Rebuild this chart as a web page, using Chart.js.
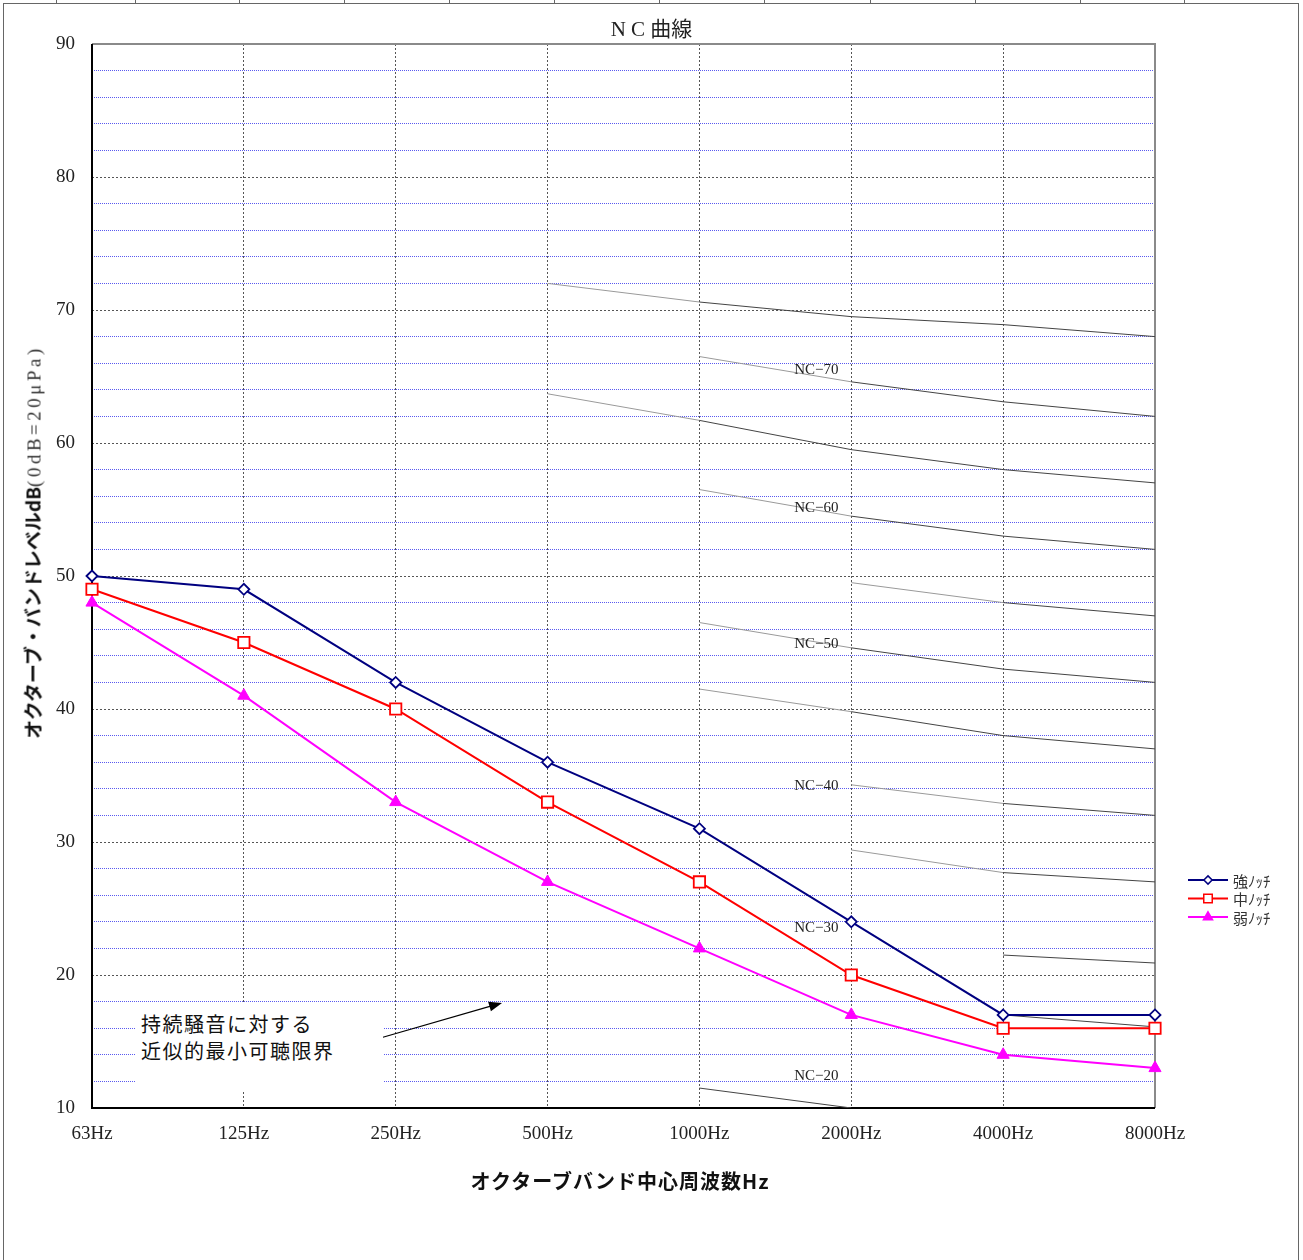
<!DOCTYPE html>
<html lang="ja">
<head>
<meta charset="utf-8">
<title>NC曲線</title>
<script src="https://cdn.jsdelivr.net/npm/chart.js@4.4.1/dist/chart.umd.min.js"></script>
<style>
html, body { margin: 0; padding: 0; background: #fff; }
#wrap { position: relative; width: 1303px; height: 1260px; overflow: hidden; }
#frame { position: absolute; left: 3px; top: 3px; width: 1294px; height: 1260px; border: 1px solid #666; border-bottom: none; }
.cell-tick { position: absolute; top: 0; width: 1px; height: 3px; background: #666; }
canvas { position: absolute; left: 0; top: 0; }
#title { position: absolute; top: 12px; left: 0; width: 1303px; text-align: center; font: 21px "Liberation Serif", "Noto Sans CJK JP", serif; color: #222; }
#ytitle { position: absolute; left: 32px; top: 542px; transform: translate(-50%, -50%) rotate(-90deg); white-space: nowrap; }
#ytitle .jp { font: bold 19px "Noto Sans CJK JP", sans-serif; color: #111; }
#ytitle .unit { font: 19px "Liberation Serif", serif; color: #333; letter-spacing: 3.5px; }
#xtitle { position: absolute; left: 620px; top: 1180px; transform: translate(-50%, -50%); font: bold 20px "Noto Sans CJK JP", sans-serif; letter-spacing: 1px; white-space: nowrap; color: #111; }
#note { position: absolute; left: 135px; top: 1002px; width: 248px; height: 90px; background: #fff; box-sizing: border-box; padding: 8px 0 0 6px; font: 20px "Noto Sans CJK JP", sans-serif; line-height: 27px; letter-spacing: 1.5px; color: #111; }
</style>
</head>
<body>
<div id="wrap">
  <div id="frame"></div>
  <canvas id="ncChart" width="1303" height="1260"></canvas>
  <div id="title">N C 曲線</div>
  <div id="ytitle"><span class="jp">オクターブ・バンドレベルdB</span><span class="unit">(0dB=20μPa)</span></div>
  <div id="xtitle">オクターブバンド中心周波数Hz</div>
  <div id="note">持続騒音に対する<br>近似的最小可聴限界</div>
</div>
<script>
const categories = ["63Hz", "125Hz", "250Hz", "500Hz", "1000Hz", "2000Hz", "4000Hz", "8000Hz"]

const strongNotch = [50, 49, 42, 36, 31, 24, 17, 17]
const midNotch = [49, 45, 40, 33, 27, 20, 16, 16]
const weakNotch = [48, 41, 33, 27, 22, 17, 14, 13]

// NC reference curves, only the parts drawn on the sheet
const nc70 = [null, null, null, 72, 70.6, 69.5, 68.9, 68]
const nc65 = [null, null, null, null, 66.5, 64.6, 63.1, 62]
const nc60 = [null, null, null, 63.7, 61.7, 59.5, 58, 57]
const nc55 = [null, null, null, null, 56.5, 54.5, 53, 52]
const nc50 = [null, null, null, null, null, 49.5, 48, 47]
const nc45 = [null, null, null, null, 46.5, 44.6, 43, 42]
const nc40 = [null, null, null, null, 41.5, 39.8, 38, 37]
const nc35 = [null, null, null, null, null, 34.3, 32.9, 32]
const nc30 = [null, null, null, null, null, 29.4, 27.7, 27]
const nc25 = [null, null, null, null, null, null, 21.5, 20.9]
const nc20 = [null, null, null, null, null, null, 17, 16.1]
const nc15 = [null, null, null, null, 11.5, 10, null, null]

const ncLabels = ["NC\u221270", "NC\u221260", "NC\u221250", "NC\u221240", "NC\u221230", "NC\u221220"]
const ncLabelLevels = [65.5, 55.1, 44.9, 34.2, 23.5, 12.4]
const ncLabelBand = 4.77

const arrowFrom = [1.91, 15.3]
const arrowTo = [2.7, 17.9]

const cellTicks = [56, 135, 239, 344, 449, 554, 659, 764, 870, 975, 1080, 1184]
cellTicks.forEach(x => {
  const d = document.createElement("div")
  d.className = "cell-tick"
  d.style.left = x + "px"
  document.getElementById("wrap").appendChild(d)
})

function ncSet(data) {
  const first = data.findIndex(v => v !== null)
  const count = data.filter(v => v !== null).length
  return {
    label: "",
    data: data,
    borderColor: "#444",
    borderWidth: 1,
    pointRadius: 0,
    spanGaps: false,
    segment: {
      borderColor: ctx => (count > 2 && ctx.p0DataIndex === first) ? "#9a9a9a" : "#444"
    }
  }
}

function drawMarker(ctx, style, x, y, r, stroke, fill, lw) {
  ctx.beginPath()
  if (style === "rectRot") {
    ctx.moveTo(x, y - r); ctx.lineTo(x + r, y); ctx.lineTo(x, y + r); ctx.lineTo(x - r, y)
  } else if (style === "rect") {
    const h = r * Math.SQRT1_2
    ctx.rect(x - h, y - h, 2 * h, 2 * h)
  } else {
    const a = r * Math.sqrt(3) / 2
    ctx.moveTo(x, y - r); ctx.lineTo(x + a, y + r / 2); ctx.lineTo(x - a, y + r / 2)
  }
  ctx.closePath()
  ctx.fillStyle = fill
  ctx.fill()
  ctx.lineWidth = lw
  ctx.strokeStyle = stroke
  ctx.stroke()
}

const framePlugin = {
  id: "frame",
  beforeDatasetsDraw(chart) {
    const { ctx, chartArea: a } = chart
    ctx.save()
    ctx.lineWidth = 2
    ctx.strokeStyle = "#8a8a8a"
    ctx.beginPath()
    ctx.moveTo(a.left, a.top); ctx.lineTo(a.right, a.top); ctx.lineTo(a.right, a.bottom)
    ctx.stroke()
    ctx.strokeStyle = "#000"
    ctx.beginPath()
    ctx.moveTo(a.left, a.top); ctx.lineTo(a.left, a.bottom); ctx.lineTo(a.right, a.bottom)
    ctx.stroke()
    ctx.restore()
  }
}

const notesPlugin = {
  id: "notes",
  afterDatasetsDraw(chart) {
    const { ctx, scales: { x, y } } = chart
    ctx.save()
    ctx.font = '15px "Liberation Serif", serif'
    ctx.fillStyle = "#222"
    ctx.textAlign = "center"
    ctx.textBaseline = "middle"
    ncLabels.forEach((t, i) => {
      ctx.fillText(t, x.getPixelForValue(ncLabelBand), y.getPixelForValue(ncLabelLevels[i]))
    })
    // arrow to the threshold note
    const x1 = x.getPixelForValue(arrowFrom[0]), y1 = y.getPixelForValue(arrowFrom[1])
    const x2 = x.getPixelForValue(arrowTo[0]), y2 = y.getPixelForValue(arrowTo[1])
    const ang = Math.atan2(y2 - y1, x2 - x1)
    ctx.strokeStyle = "#000"
    ctx.lineWidth = 1.2
    ctx.beginPath()
    ctx.moveTo(x1, y1); ctx.lineTo(x2 - 10 * Math.cos(ang), y2 - 10 * Math.sin(ang))
    ctx.stroke()
    ctx.fillStyle = "#000"
    ctx.beginPath()
    ctx.moveTo(x2, y2)
    ctx.lineTo(x2 - 13 * Math.cos(ang) + 5 * Math.sin(ang), y2 - 13 * Math.sin(ang) - 5 * Math.cos(ang))
    ctx.lineTo(x2 - 13 * Math.cos(ang) - 5 * Math.sin(ang), y2 - 13 * Math.sin(ang) + 5 * Math.cos(ang))
    ctx.closePath()
    ctx.fill()
    ctx.restore()
  }
}

const legendPlugin = {
  id: "notchLegend",
  afterDraw(chart) {
    const { ctx, chartArea: a } = chart
    const x0 = a.right + 33
    ctx.save()
    ctx.font = '15px "Noto Sans CJK JP", sans-serif'
    ctx.textBaseline = "middle"
    for (let i = 0; i < 3; i++) {
      const ds = chart.data.datasets[i]
      const yy = a.bottom - 228 + i * 18.5
      ctx.strokeStyle = ds.borderColor
      ctx.lineWidth = 2
      ctx.beginPath()
      ctx.moveTo(x0, yy); ctx.lineTo(x0 + 40, yy)
      ctx.stroke()
      drawMarker(ctx, ds.pointStyle, x0 + 20, yy, ds.pointRadius * 0.75, ds.pointBorderColor, ds.pointBackgroundColor, 1.5)
      ctx.fillStyle = "#333"
      ctx.fillText(ds.label, x0 + 45, yy + 1)
    }
    ctx.restore()
  }
}

const tickFont = { family: "Liberation Serif", size: 19 }

new Chart(document.getElementById("ncChart").getContext("2d"), {
  type: "line",
  data: {
    labels: categories,
    datasets: [
      { label: "強ﾉｯﾁ", data: strongNotch, borderColor: "#000080", borderWidth: 2, pointStyle: "rectRot", pointRadius: 5.5, pointBorderWidth: 1.8, pointBorderColor: "#000080", pointBackgroundColor: "#fff", tension: 0, clip: false },
      { label: "中ﾉｯﾁ", data: midNotch, borderColor: "#ff0000", borderWidth: 2, pointStyle: "rect", pointRadius: 8, pointBorderWidth: 1.8, pointBorderColor: "#ff0000", pointBackgroundColor: "#fff", tension: 0, clip: false },
      { label: "弱ﾉｯﾁ", data: weakNotch, borderColor: "#ff00ff", borderWidth: 2, pointStyle: "triangle", pointRadius: 7, pointBorderWidth: 1, pointBorderColor: "#ff00ff", pointBackgroundColor: "#ff00ff", tension: 0, clip: false },
      ncSet(nc70), ncSet(nc65), ncSet(nc60), ncSet(nc55), ncSet(nc50), ncSet(nc45),
      ncSet(nc40), ncSet(nc35), ncSet(nc30), ncSet(nc25), ncSet(nc20), ncSet(nc15)
    ]
  },
  options: {
    responsive: false,
    animation: false,
    events: [],
    layout: { padding: { left: 0, top: 44, right: 148, bottom: 0 } },
    plugins: { legend: { display: false }, tooltip: { enabled: false }, title: { display: false } },
    scales: {
      x: {
        offset: false,
        afterFit: s => { s.height = 152 },
        border: { display: false, dash: [2, 2] },
        grid: { drawTicks: false, offset: false, color: "#555", lineWidth: 1 },
        ticks: { padding: 15, color: "#222", font: tickFont, maxRotation: 0, autoSkip: false }
      },
      y: {
        min: 10,
        max: 90,
        afterFit: s => { s.width = 92 },
        border: { display: false, dash: ctx => (ctx.tick && ctx.tick.value % 10 === 0) ? [2, 2] : [1, 1] },
        grid: { drawTicks: false, lineWidth: 1, color: ctx => (ctx.tick && ctx.tick.value % 10 === 0) ? "#555" : "#5a5af0" },
        ticks: { stepSize: 2, autoSkip: false, padding: 17, color: "#222", font: tickFont, callback: v => v % 10 === 0 ? v : "" }
      }
    }
  },
  plugins: [framePlugin, notesPlugin, legendPlugin]
})
</script>
</body>
</html>
